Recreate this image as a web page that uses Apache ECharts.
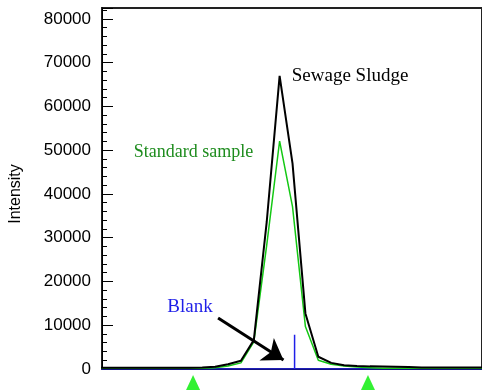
<!DOCTYPE html>
<html>
<head>
<meta charset="utf-8">
<script src="https://cdn.jsdelivr.net/npm/echarts@6/dist/echarts.min.js"></script>
<style>
  html, body { margin: 0; padding: 0; background: #fff; }
  #chart { width: 482px; height: 392px; }
</style>
</head>
<body>
<div id="chart"></div>
<script>
// scan position of each sample
const scans = [-0.23, 0.77, 1.77, 2.77, 3.77, 4.77, 5.77, 6.77, 7.77, 8.77, 9.77, 10.77, 11.77, 12.77, 13.77, 14.77, 15.77, 16.77, 17.77, 18.77, 19.77, 20.77, 21.77, 22.77, 23.77, 24.77, 25.77, 26.77, 27.77, 28.77, 29.77]
// intensities
const sludge = [300, 300, 300, 300, 300, 300, 300, 300, 350, 500, 1100, 1900, 6600, 33600, 67000, 47000, 12700, 2800, 1400, 850, 700, 600, 550, 500, 450, 350, 350, 350, 350, 350, 350]
const standard = [150, 150, 150, 150, 150, 150, 150, 150, 150, 300, 700, 1400, 6200, 28300, 52100, 37100, 9700, 2000, 1100, 700, 450, 300, 150, 150, 150, 150, 150, 150, 150, 150, 150]
// blank: flat with one spike
const blankScans = [-0.23, 14.93, 14.93, 14.93, 29.77]
const blankValues = [0, 0, 7800, 0, 0]
// integration window markers (scan positions)
const markerScans = [7.06, 20.62]
const yTicks = [0, 10000, 20000, 30000, 40000, 50000, 60000, 70000, 80000]

const chart = echarts.init(document.getElementById('chart'))

const pairs = (xs, ys) => xs.map((x, i) => [x, ys[i]])

chart.setOption({
    animation: false,
    grid: [{
        show: true,
        left: 102,
        right: -3,
        top: 8,
        bottom: 23,
        borderColor: '#222',
        borderWidth: 2,
        backgroundColor: 'transparent'
    }, {
        // label strip: spans 0 .. 80000 only
        left: 102,
        right: -3,
        top: 19,
        bottom: 23
    }],
    xAxis: [{
        type: 'value',
        min: 0,
        max: 29.46,
        axisLine: { show: true, lineStyle: { color: '#000', width: 1 } },
        axisTick: { show: false },
        axisLabel: { show: false },
        splitLine: { show: false }
    }, {
        type: 'value',
        gridIndex: 1,
        min: 0,
        max: 1,
        show: false
    }],
    yAxis: [{
        type: 'value',
        position: 'left',
        min: yTicks[0],
        max: 82500,
        interval: 10000,
        axisLine: { show: true, lineStyle: { color: '#000', width: 1 } },
        axisTick: { show: true, inside: true, length: 11, lineStyle: { color: '#000', width: 1 } },
        axisLabel: { show: false },
        splitLine: { show: false }
    }, {
        type: 'value',
        position: 'left',
        min: yTicks[0],
        max: 82500,
        interval: 2000,
        axisLine: { show: true, lineStyle: { color: '#000', width: 1 } },
        axisTick: { show: true, inside: true, length: 5, lineStyle: { color: '#000', width: 1 } },
        axisLabel: { show: false },
        splitLine: { show: false }
    }, {
        type: 'category',
        gridIndex: 1,
        position: 'left',
        data: yTicks.map(String),
        boundaryGap: false,
        name: 'Intensity',
        nameLocation: 'middle',
        nameGap: 78,
        nameTextStyle: {
            fontFamily: 'Liberation Sans',
            fontSize: 16,
            color: '#000'
        },
        axisLine: { show: false },
        axisTick: { show: false },
        axisLabel: {
            margin: 11,
            fontFamily: 'Liberation Sans',
            fontSize: 17,
            color: '#000'
        },
        splitLine: { show: false }
    }],
    series: [{
        name: 'Blank',
        type: 'line',
        data: pairs(blankScans, blankValues),
        showSymbol: false,
        lineStyle: { color: '#1f1fe8', width: 1.5 },
        z: 1,
        markPoint: {
            symbol: 'circle',
            symbolSize: 0,
            silent: true,
            label: {
                show: true,
                position: 'inside',
                formatter: 'Blank',
                fontFamily: 'Liberation Serif',
                fontSize: 19,
                color: '#1f1fe8'
            },
            data: [{ coord: [6.82, 14200] }]
        },
        markLine: {
            silent: true,
            symbol: ['none', 'arrow'],
            symbolSize: 20,
            label: { show: false },
            lineStyle: { color: '#000', width: 3, type: 'solid' },
            data: [[{ coord: [9.0, 11660] }, { coord: [14.07, 2060] }]]
        }
    }, {
        name: 'Standard sample',
        type: 'line',
        data: pairs(scans, standard),
        showSymbol: false,
        lineStyle: { color: '#14c814', width: 1.5 },
        z: 2,
        markPoint: {
            symbol: 'circle',
            symbolSize: 0,
            silent: true,
            label: {
                show: true,
                position: 'inside',
                formatter: 'Standard sample',
                fontFamily: 'Liberation Serif',
                fontSize: 18,
                color: '#1e8c1e'
            },
            data: [{ coord: [7.1, 49600] }]
        }
    }, {
        name: 'Sewage Sludge',
        type: 'line',
        data: pairs(scans, sludge),
        showSymbol: false,
        lineStyle: { color: '#000', width: 2 },
        z: 3,
        markPoint: {
            symbol: 'circle',
            symbolSize: 0,
            silent: true,
            label: {
                show: true,
                position: 'inside',
                formatter: 'Sewage Sludge',
                fontFamily: 'Liberation Serif',
                fontSize: 19,
                color: '#000'
            },
            data: [{ coord: [19.23, 67000] }]
        }
    }, {
        name: 'markers',
        type: 'scatter',
        clip: false,
        symbol: 'triangle',
        symbolSize: [14, 15],
        itemStyle: { color: '#00ee00' },
        data: markerScans.map(x => [x, -3100]),
        z: 4
    }]
})
</script>
</body>
</html>
